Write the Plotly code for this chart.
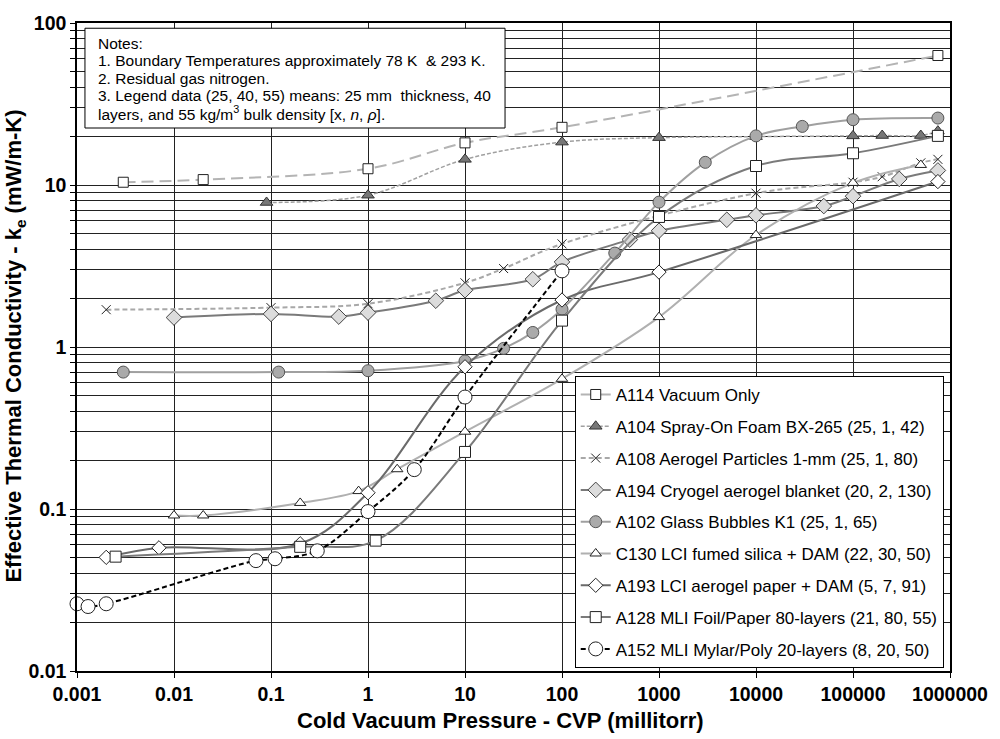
import plotly.graph_objects as go

# ---------------- data ----------------
a114_x = [0.003, 0.02, 1, 10, 100, 750000]
a114_y = [10.4, 10.8, 12.6, 18.2, 22.7, 63]

a104_x = [0.09, 1, 10, 100, 1000, 10000, 100000, 200000, 500000, 750000]
a104_y = [7.8, 8.65, 14.4, 18.4, 19.6, 19.9, 20.1, 20.2, 20.2, 21.5]

a108_x = [0.002, 0.1, 1, 10, 25, 100, 10000, 100000, 200000, 500000, 750000]
a108_y = [1.70, 1.75, 1.85, 2.49, 3.05, 4.33, 8.9, 10.4, 11.25, 13.7, 14.4]

a194_x = [0.01, 0.1, 0.5, 1, 5, 10, 50, 100, 500, 1000, 5000, 10000, 50000, 100000, 300000, 750000]
a194_y = [1.52, 1.60, 1.54, 1.63, 1.93, 2.24, 2.62, 3.35, 4.6, 5.22, 6.1, 6.5, 7.41, 8.53, 10.9, 12.3]

a102_x = [0.003, 0.12, 1, 10, 25, 50, 100, 350, 1000, 3000, 10000, 30000, 100000, 750000]
a102_y = [0.70, 0.70, 0.714, 0.82, 0.98, 1.23, 1.71, 3.8, 7.84, 13.8, 20.1, 23.0, 25.3, 25.9]

c130_x = [0.01, 0.02, 0.2, 0.8, 2, 10, 100, 1000, 10000, 100000, 500000]
c130_y = [0.0912, 0.0912, 0.109, 0.129, 0.176, 0.30, 0.636, 1.53, 4.91, 10.3, 13.3]

a193_x = [0.002, 0.007, 0.2, 1, 10, 100, 1000, 750000]
a193_y = [0.0503, 0.0576, 0.061, 0.126, 0.755, 1.95, 2.9, 10.5]

a128_x = [0.0025, 0.2, 1.2, 10, 100, 1000, 10000, 100000, 750000]
a128_y = [0.0508, 0.0584, 0.0638, 0.225, 1.455, 6.35, 13.1, 15.7, 20.1]

a152_x = [0.001, 0.0013, 0.002, 0.07, 0.11, 0.3, 1, 3, 10, 100]
a152_y = [0.026, 0.025, 0.026, 0.048, 0.0493, 0.0552, 0.0964, 0.175, 0.491, 2.95]

series_names = [
    "A114 Vacuum Only",
    "A104 Spray-On Foam BX-265 (25, 1, 42)",
    "A108 Aerogel Particles 1-mm (25, 1, 80)",
    "A194 Cryogel aerogel blanket (20, 2, 130)",
    "A102 Glass Bubbles K1 (25, 1, 65)",
    "C130 LCI fumed silica + DAM (22, 30, 50)",
    "A193 LCI aerogel paper + DAM (5, 7, 91)",
    "A128 MLI Foil/Paper 80-layers (21, 80, 55)",
    "A152 MLI Mylar/Poly 20-layers (8, 20, 50)",
]

x_tick_vals = [0.001, 0.01, 0.1, 1, 10, 100, 1000, 10000, 100000, 1000000]
x_tick_text = ["0.001", "0.01", "0.1", "1", "10", "100", "1000", "10000", "100000", "1000000"]
y_tick_vals = [0.01, 0.1, 1, 10, 100]
y_tick_text = ["0.01", "0.1", "1", "10", "100"]

x_title = "<b>Cold Vacuum Pressure - CVP (millitorr)</b>"
y_title = "<b>Effective Thermal Conductivity - k<sub>e</sub> (mW/m-K)</b>"

notes_lines = [
    "Notes:",
    "1. Boundary Temperatures approximately 78 K&nbsp;&nbsp;&amp; 293 K.",
    "2. Residual gas nitrogen.",
    "3. Legend data (25, 40, 55) means: 25 mm&nbsp;&nbsp;thickness, 40",
    "layers, and 55 kg/m<sup>3</sup> bulk density [x, <i>n</i>, <i>ρ</i>].",
]

# ---------------- styles ----------------
styles = [
    dict(lc="#b4b4b4", dash="12px,6px", lw=2, sym="square", mc="white", ms=10, mlc="#222"),
    dict(lc="#a0a0a0", dash="4px,2px", lw=1.5, sym="triangle-up", mc="#777777", ms=11, mlc="#333"),
    dict(lc="#a8a8a8", dash="5px,3px", lw=2, sym="x-thin", mc="#222", ms=9, mlc="#222"),
    dict(lc="#7a7a7a", dash="solid", lw=2, sym="diamond", mc="#dcdcdc", ms=12, mlc="#444"),
    dict(lc="#a0a0a0", dash="solid", lw=2, sym="circle", mc="#aaaaaa", ms=12, mlc="#555"),
    dict(lc="#b0b0b0", dash="solid", lw=2, sym="triangle-up", mc="white", ms=10, mlc="#222"),
    dict(lc="#6a6a6a", dash="solid", lw=2, sym="diamond", mc="white", ms=11, mlc="#222"),
    dict(lc="#7a7a7a", dash="solid", lw=2, sym="square", mc="white", ms=11, mlc="#222"),
    dict(lc="#000000", dash="5px,3px", lw=2, sym="circle", mc="white", ms=14, mlc="#222"),
]

xs = [a114_x, a104_x, a108_x, a194_x, a102_x, c130_x, a193_x, a128_x, a152_x]
ys = [a114_y, a104_y, a108_y, a194_y, a102_y, c130_y, a193_y, a128_y, a152_y]

fig = go.Figure()
for i, (name, x, y, s) in enumerate(zip(series_names, xs, ys, styles)):
    fig.add_trace(go.Scatter(
        x=x, y=y, name=name, mode="lines+markers",
        legendgroup=f"g{i}",
        line=dict(color=s["lc"], width=s["lw"], dash=s["dash"], shape="spline", smoothing=1),
        marker=dict(symbol=s["sym"], size=s["ms"], color=s["mc"],
                    line=dict(color=s["mlc"], width=1)),
        cliponaxis=False,
    ))

# minor y ticks/grid at 2..9 x each decade
y_minor_vals = [d * k for d in y_tick_vals[:-1] for k in range(2, 10)]

FONT = "Arial, Liberation Sans, sans-serif"

fig.update_xaxes(
    type="log", range=[-3, 6],
    tickmode="array", tickvals=x_tick_vals, ticktext=x_tick_text,
    ticks="outside", ticklen=5, tickcolor="black",
    showgrid=True, gridcolor="#222", gridwidth=1,
    showline=True, linecolor="black", linewidth=1.5, mirror=True,
    zeroline=False,
    tickfont=dict(family=FONT, size=19.5, color="black", weight="bold"),
)
fig.update_yaxes(
    type="log", range=[-2, 2],
    tickmode="array", tickvals=y_tick_vals, ticktext=y_tick_text,
    ticks="outside", ticklen=5, tickcolor="black",
    showgrid=True, gridcolor="#222", gridwidth=1,
    minor=dict(tickmode="array", tickvals=y_minor_vals, ticks="outside", ticklen=5,
               tickcolor="black", showgrid=True, gridcolor="#222", gridwidth=1),
    showline=True, linecolor="black", linewidth=1.5, mirror=True,
    zeroline=False,
    tickfont=dict(family=FONT, size=19.5, color="black", weight="bold"),
)

L, R, T, B = 77, 954, 14.7, 670.7
W, H = R - L, B - T
def px(x): return (x - L) / W
def py(y): return (B - y) / H

# axis titles as annotations for exact placement
fig.add_annotation(xref="paper", yref="paper", x=px(502), y=py(721),
                   xanchor="center", yanchor="middle", showarrow=False,
                   text=x_title, font=dict(family=FONT, size=22, color="black"))
fig.add_annotation(xref="paper", yref="paper", x=px(15), y=py(342),
                   xanchor="center", yanchor="middle", showarrow=False, textangle=-90,
                   text=y_title, font=dict(family=FONT, size=22, color="black"))

# notes box
fig.add_shape(type="rect", xref="paper", yref="paper",
              x0=px(85), x1=px(507), y0=py(121), y1=py(20),
              line=dict(color="black", width=1), fillcolor="white", layer="above")
note_y = [35, 52.7, 71, 88.3, 106]
for txt, yy in zip(notes_lines, note_y):
    fig.add_annotation(xref="paper", yref="paper", x=px(96), y=py(yy),
                       xanchor="left", yanchor="middle", showarrow=False,
                       text=txt, font=dict(family=FONT, size=15.5, color="black"))

fig.update_layout(
    width=1000, height=739,
    margin=dict(l=L, r=1000 - R, t=T, b=739 - B),
    plot_bgcolor="white", paper_bgcolor="white",
    font=dict(family=FONT, color="black"),
    legend=dict(x=px(577), y=py(372), xanchor="left", yanchor="top",
                bgcolor="white", bordercolor="black", borderwidth=1,
                font=dict(family=FONT, size=17, color="black"),
                tracegroupgap=6.7, traceorder="grouped"),
    showlegend=True,
)

fig.write_html("out.html")
